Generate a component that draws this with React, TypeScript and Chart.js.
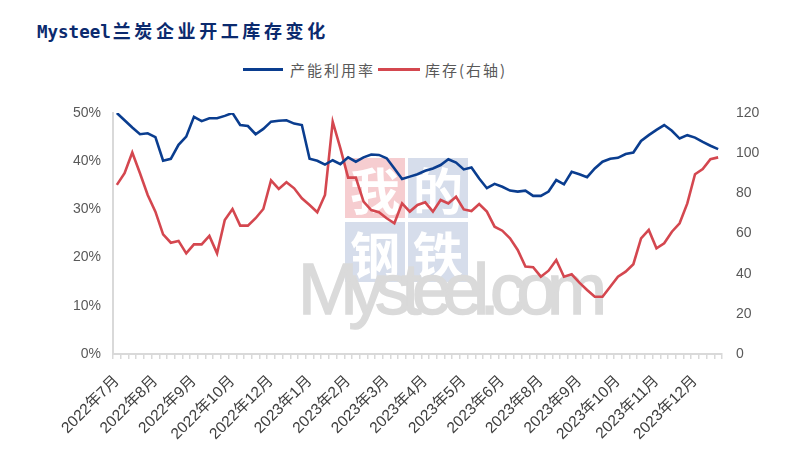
import { useEffect, useRef } from 'react'
import { Chart, registerables } from 'chart.js'

Chart.register(...registerables)

const FONT = '"Liberation Sans", "Noto Sans CJK SC", sans-serif'

// weekly points, a month label every 5th week
const MONTH_LABELS = [
  '2022年7月', '2022年8月', '2022年9月', '2022年10月', '2022年12月', '2023年1月',
  '2023年2月', '2023年3月', '2023年4月', '2023年5月', '2023年6月', '2023年8月',
  '2023年9月', '2023年10月', '2023年11月', '2023年12月',
]
const LABEL_EVERY = 5

// 产能利用率 (%)
const UTILIZATION = [
  50.0, 48.5, 47.0, 45.6, 45.8, 45.0, 40.1, 40.5, 43.4, 45.1,
  49.2, 48.3, 48.9, 48.9, 49.4, 50.0, 47.5, 47.3, 45.6, 46.7,
  48.2, 48.4, 48.5, 47.8, 47.5, 40.5, 40.1, 39.3, 40.2, 39.4,
  40.8, 39.9, 40.8, 41.4, 41.3, 40.6, 38.5, 36.3, 36.8, 37.3,
  38.0, 38.5, 39.2, 40.4, 39.7, 38.3, 38.7, 36.4, 34.4, 35.3,
  34.7, 33.9, 33.7, 33.9, 32.8, 32.8, 33.7, 36.1, 35.2, 37.8,
  37.3, 36.7, 38.5, 39.9, 40.5, 40.7, 41.5, 41.8, 44.2, 45.4,
  46.5, 47.5, 46.3, 44.7, 45.4, 44.9, 44.0, 43.2, 42.5,
]

// 库存 (右轴)
const INVENTORY = [
  84.2, 90.0, 100.3, 90.0, 79.2, 70.9, 59.6, 55.4, 56.3, 50.1,
  54.6, 54.6, 58.8, 50.1, 66.7, 72.2, 63.9, 63.9, 67.6, 72.2,
  86.4, 82.2, 85.5, 82.5, 77.5, 74.2, 70.6, 79.2, 115.7, 102.4,
  87.8, 87.8, 75.9, 71.7, 70.6, 67.6, 65.1, 75.0, 70.9, 74.2,
  75.5, 70.9, 76.7, 75.0, 78.3, 72.0, 71.2, 74.7, 70.9, 63.4,
  61.4, 57.6, 51.8, 43.5, 43.2, 38.5, 41.5, 46.8, 38.5, 39.7,
  35.5, 31.9, 28.5, 28.5, 33.5, 38.5, 41.0, 44.7, 57.6, 61.8,
  52.6, 55.1, 60.9, 65.1, 75.0, 89.5, 92.1, 97.0, 97.9,
]

const CATEGORIES = UTILIZATION.map((_, i) =>
  i % LABEL_EVERY === 0 ? MONTH_LABELS[i / LABEL_EVERY] ?? '' : ''
)

const BLUE = '#0a3d8f'
const RED = '#d4474f'
const AXIS = '#d9d9d9'

function Watermark() {
  const box = (left: number, top: number, bg: string, ch: string) => (
    <div
      style={{
        position: 'absolute', left, top, width: 60, height: 60, background: bg,
        color: '#fff', fontSize: 50, lineHeight: '60px', textAlign: 'center',
        fontFamily: '"Noto Sans CJK SC", sans-serif', fontWeight: 700,
      }}
    >
      {ch}
    </div>
  )
  return (
    <>
      {box(345, 158, '#f6cdd0', '我')}
      {box(408, 158, '#d6ddeb', '的')}
      {box(345, 222, '#d6ddeb', '钢')}
      {box(408, 222, '#d6ddeb', '铁')}
      <div
        style={{
          position: 'absolute', left: 298, top: 242, fontSize: 72, lineHeight: '94px',
          color: '#dadada', fontFamily: FONT, letterSpacing: -9.5, whiteSpace: 'nowrap',
          WebkitTextStroke: '1.5px #dadada',
        }}
      >
        Mysteel.com
      </div>
    </>
  )
}

export default function App() {
  const canvasRef = useRef<HTMLCanvasElement>(null)
  const chartRef = useRef<Chart | null>(null)

  useEffect(() => {
    if (!canvasRef.current) return
    if (chartRef.current) chartRef.current.destroy()

    chartRef.current = new Chart(canvasRef.current, {
      type: 'line',
      data: {
        labels: CATEGORIES,
        datasets: [
          {
            label: '产能利用率',
            data: UTILIZATION,
            borderColor: BLUE,
            backgroundColor: BLUE,
            borderWidth: 2.6,
            pointRadius: 0,
            tension: 0,
            yAxisID: 'y',
          },
          {
            label: '库存(右轴)',
            data: INVENTORY,
            borderColor: RED,
            backgroundColor: RED,
            borderWidth: 2.6,
            pointRadius: 0,
            tension: 0,
            yAxisID: 'y1',
          },
        ],
      },
      options: {
        responsive: true,
        maintainAspectRatio: false,
        animation: false,
        layout: { padding: { top: 113, left: 0, right: 0, bottom: 0 } },
        plugins: {
          legend: { display: false },
          tooltip: { enabled: false },
        },
        scales: {
          x: {
            type: 'category',
            offset: true,
            afterFit: (scale: any) => { scale.height = 104 },
            grid: {
              display: true,
              drawOnChartArea: false,
              drawTicks: true,
              tickLength: 5,
              offset: true,
              color: AXIS,
              lineWidth: 1.5,
            },
            border: { display: true, color: AXIS, width: 2 },
            ticks: {
              autoSkip: false,
              minRotation: 45,
              maxRotation: 45,
              padding: 13,
              color: '#404040',
              font: { family: FONT, size: 15.5 },
              callback: (_v: any, i: number) => CATEGORIES[i],
            },
          },
          y: {
            position: 'left',
            min: 0,
            max: 50,
            afterFit: (scale: any) => { scale.width = 113 },
            grid: { display: false, drawTicks: false },
            border: { display: true, color: AXIS, width: 2 },
            ticks: {
              stepSize: 10,
              padding: 12,
              color: '#595959',
              font: { family: FONT, size: 14 },
              callback: (v: any) => `${v}%`,
            },
          },
          y1: {
            position: 'right',
            min: 0,
            max: 120,
            afterFit: (scale: any) => { scale.width = 84 },
            grid: { display: false, drawTicks: false },
            border: { display: false },
            ticks: {
              stepSize: 20,
              padding: 14,
              color: '#595959',
              font: { family: FONT, size: 14 },
            },
          },
        },
      },
    })

    return () => {
      if (chartRef.current) {
        chartRef.current.destroy()
        chartRef.current = null
      }
    }
  }, [])

  return (
    <div
      style={{
        position: 'absolute', left: 0, top: 0, width: 806, height: 458,
        background: '#fff', overflow: 'hidden', fontFamily: FONT,
      }}
    >
      <div
        style={{
          position: 'absolute', left: 37, top: 17, height: 26, lineHeight: '26px',
          color: '#0b2a6e', fontWeight: 700, whiteSpace: 'nowrap',
        }}
      >
        <span style={{ fontFamily: '"DejaVu Sans Mono", monospace', fontSize: 17.5 }}>Mysteel</span>
        <span style={{ fontFamily: '"Noto Sans CJK SC", sans-serif', fontSize: 18, letterSpacing: 3.6, marginLeft: 2 }}>
          兰炭企业开工库存变化
        </span>
      </div>

      <Watermark />

      <div
        style={{
          position: 'absolute', left: 243, top: 58, height: 22, display: 'flex',
          alignItems: 'center', whiteSpace: 'nowrap', color: '#595959',
          fontFamily: '"Noto Sans CJK SC", sans-serif', fontSize: 15, letterSpacing: 2,
        }}
      >
        <span style={{ display: 'inline-block', width: 40, height: 3, background: BLUE, marginRight: 7 }} />
        <span>产能利用率</span>
        <span style={{ display: 'inline-block', width: 42, height: 3, background: RED, margin: '0 5px 0 3px' }} />
        <span>库存(右轴)</span>
      </div>

      <div style={{ position: 'absolute', left: 0, top: 0, width: 806, height: 458 }}>
        <canvas ref={canvasRef} />
      </div>
    </div>
  )
}
